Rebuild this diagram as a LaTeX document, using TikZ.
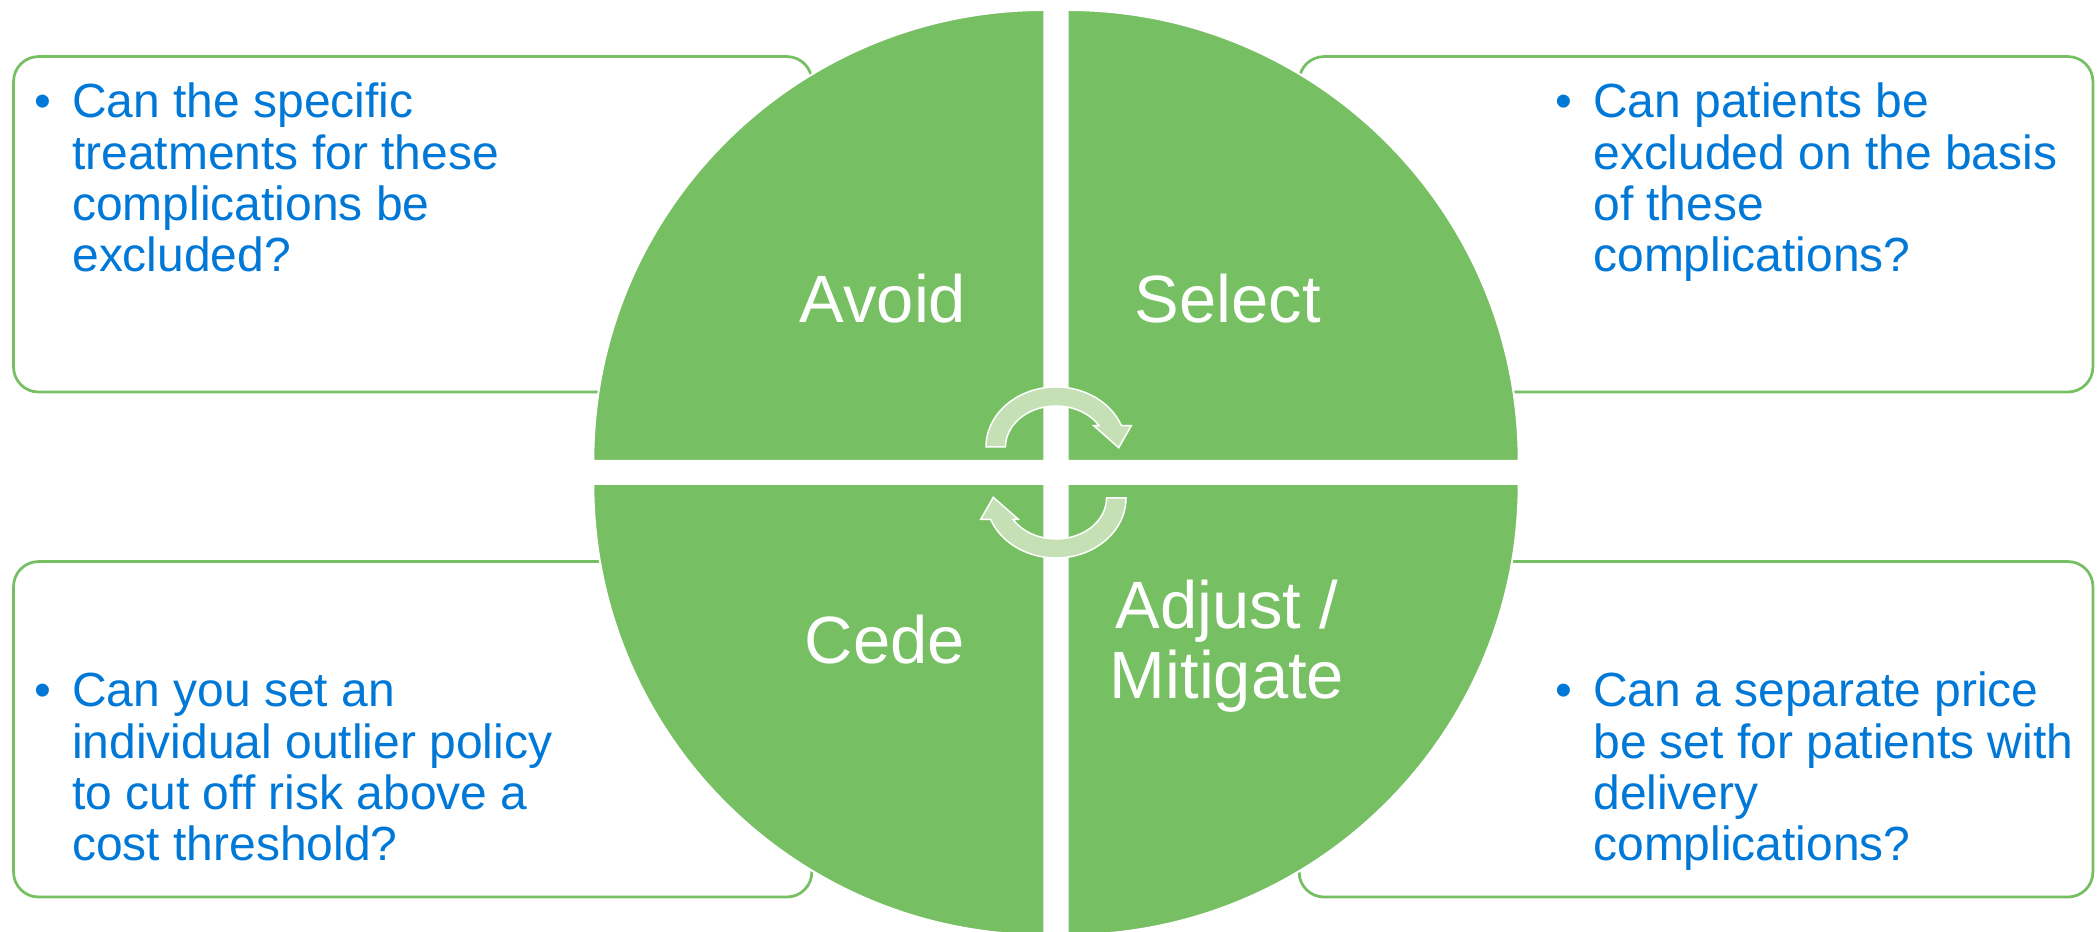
\documentclass[tikz,border=0pt]{standalone}
\usepackage{fontspec}
\setmainfont{Liberation Sans}
\usetikzlibrary{positioning}

\definecolor{leafgreen}{RGB}{118,191,98}
\definecolor{palegreen}{RGB}{197,224,180}
\definecolor{qblue}{RGB}{0,120,215}

% voce con pallino e righe allineate al testo
\newcommand{\qitem}[1]{\makebox[0.748cm][l]{•}\begin{tabular}[t]{@{}l@{}}#1\end{tabular}}

\tikzset{
    qbox/.style={draw=leafgreen, line width=0.055cm, fill=white, rounded corners=0.5cm},
    qtext/.style={text=qblue, anchor=base west, inner sep=0pt,
        font=\fontsize{27.3}{29.1}\selectfont},
    quarter/.style={fill=leafgreen, draw=white, line width=0.04cm},
    quadname/.style={text=white, anchor=base, inner sep=0pt, align=center,
        font=\fontsize{38.1}{40.4}\selectfont},
    turnarrow/.style={fill=palegreen, draw=white, line width=0.03cm}
}

\begin{document}
\begin{tikzpicture}[x=0.02cm, y=0.02cm]
    \useasboundingbox (0,0) rectangle (2097,932);

    % Riquadri con le domande
    \node[qbox, minimum width=15.97cm, minimum height=6.71cm] (avoidBox) at (412.7,707.7) {};
    \node[qbox, minimum width=15.88cm, minimum height=6.71cm] (selectBox) at (1696,707.7) {};
    \node[qbox, minimum width=15.97cm, minimum height=6.71cm] (cedeBox) at (412.7,202.7) {};
    \node[qbox, minimum width=15.88cm, minimum height=6.71cm] (adjustBox) at (1696,202.7) {};

    \node[qtext] (avoidText) at (34.6,814)
        {\qitem{Can the specific\\treatments for these\\complications be\\excluded?}};
    \node[qtext] (selectText) at (1555.6,814)
        {\qitem{Can patients be\\excluded on the basis\\of these\\complications?}};
    \node[qtext] (cedeText) at (34.6,225)
        {\qitem{Can you set an\\individual outlier policy\\to cut off risk above a\\cost threshold?}};
    \node[qtext] (adjustText) at (1555.6,225)
        {\qitem{Can a separate price\\be set for patients with\\delivery\\complications?}};

    % Quadranti del cerchio
    \foreach \cx/\cy/\a in {1044.3/471/90, 1067.7/471/0, 1044.3/448/180, 1067.7/448/270}
        \filldraw[quarter] (\cx,\cy) -- ++(\a:451) arc[radius=451, start angle=\a, delta angle=90] -- cycle;

    \node[quadname] (avoid) at (883,609) {Avoid};
    \node[quadname] (select) at (1228,609) {Select};
    \node[quadname] (cede) at (885,268) {Cede};
    \node[quadname] (adjust) at (1227,233) {Adjust /\\Mitigate};

    % Frecce circolari al centro
    \foreach \turn/\cy in {0/434, 180/485}
        \filldraw[turnarrow, shift={(1056,\cy)}, rotate=\turn]
            (70,0) arc[x radius=70, y radius=60, start angle=0, end angle=-159.2]
            -- (-75.3,-21.3) -- (-62.7,0.7) -- (-37.7,-21.3) -- (-43.1,-21.3)
            arc[x radius=50.5, y radius=41, start angle=-148.7, end angle=0] -- cycle;
\end{tikzpicture}
\end{document}
